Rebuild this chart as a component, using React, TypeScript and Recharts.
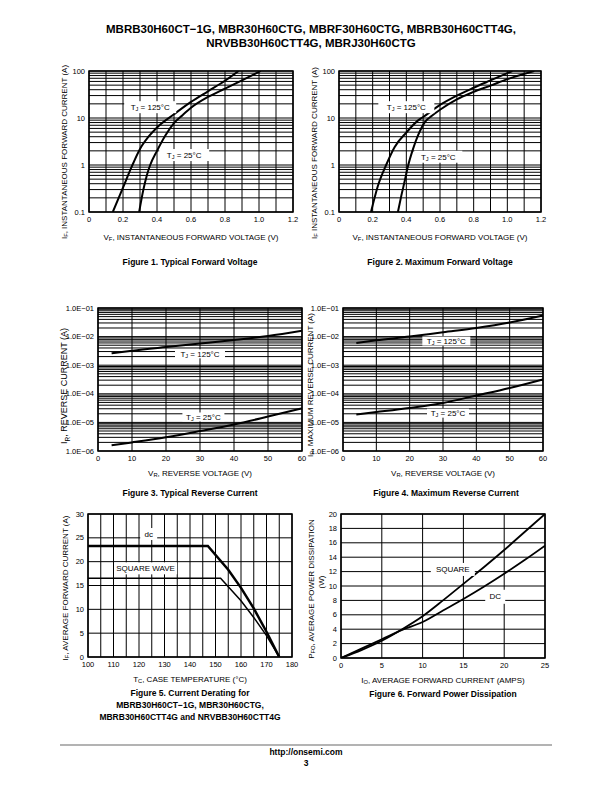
import React from 'react';
import { LineChart, Line, XAxis, YAxis, CartesianGrid, ReferenceDot, ReferenceArea } from 'recharts';

const FONT = "'Liberation Sans', Arial, Helvetica, sans-serif";

// ---------- Figure 1: typical forward voltage ----------
const fig1HotV = [0.14, 0.2, 0.25, 0.3, 0.35, 0.4, 0.5, 0.6, 0.7, 0.8, 0.88];
const fig1HotI = [0.1, 0.33, 0.9, 2.2, 4.0, 6.3, 12, 22, 37, 62, 100];
const fig1ColdV = [0.295, 0.32, 0.34, 0.36, 0.4, 0.45, 0.5, 0.55, 0.6, 0.7, 0.8, 0.9, 1.01];
const fig1ColdI = [0.1, 0.3, 0.6, 1.0, 2.0, 4.3, 7.8, 11.5, 16.5, 28, 42, 63, 100];

// ---------- Figure 2: maximum forward voltage ----------
const fig2HotV = [0.19, 0.23, 0.28, 0.33, 0.4, 0.47, 0.5, 0.6, 0.7, 0.8, 0.9, 1.03];
const fig2HotI = [0.1, 0.35, 1.0, 2.4, 4.9, 8.9, 10.5, 19, 30, 44, 63, 100];
const fig2ColdV = [0.35, 0.37, 0.39, 0.41, 0.44, 0.47, 0.51, 0.55, 0.6, 0.7, 0.8, 0.9, 1.0, 1.16];
const fig2ColdI = [0.1, 0.22, 0.45, 0.95, 2.2, 4.3, 8.2, 11, 15, 25, 36, 49, 67, 100];

// ---------- Figure 3: typical reverse current ----------
const fig3V = [4, 10, 20, 30, 40, 50, 60];
const fig3Hot = [2.6e-3, 3.2e-3, 4.3e-3, 5.7e-3, 7.6e-3, 1.05e-2, 1.6e-2];
const fig3Cold = [1.6e-6, 2.0e-6, 3.0e-6, 5.0e-6, 8.5e-6, 1.6e-5, 3.1e-5];

// ---------- Figure 4: maximum reverse current ----------
const fig4V = [4, 10, 20, 30, 40, 50, 60];
const fig4Hot = [6.0e-3, 7.4e-3, 1.0e-2, 1.42e-2, 2.0e-2, 3.1e-2, 5.5e-2];
const fig4Cold = [1.9e-5, 2.3e-5, 3.2e-5, 4.8e-5, 8.7e-5, 1.6e-4, 3.2e-4];

// ---------- Figure 5: current derating ----------
const fig5DcT = [100, 147, 155, 160, 165, 170, 175];
const fig5DcI = [23.3, 23.3, 18.3, 14.5, 10.2, 5.3, 0];
const fig5SqT = [100, 152, 160, 165, 170, 175];
const fig5SqI = [16.5, 16.5, 11.8, 8.3, 4.5, 0];

// ---------- Figure 6: forward power dissipation ----------
const fig6I = [0, 2.5, 5, 7.5, 10, 12.5, 15, 17.5, 20, 22.5, 25];
const fig6Square = [0, 1.1, 2.4, 4.0, 5.8, 8.0, 10.3, 12.6, 15.0, 17.5, 20.0];
const fig6Dc = [0, 1.3, 2.6, 3.9, 5.0, 6.6, 8.2, 9.9, 11.7, 13.6, 15.6];

// ---------- ticks ----------
const fig12XTicks = [0, 0.1, 0.2, 0.3, 0.4, 0.5, 0.6, 0.7, 0.8, 0.9, 1.0, 1.1, 1.2];
const fig12XLabelVals = [0, 0.2, 0.4, 0.6, 0.8, 1.0, 1.2];
const fig12XLabels = ['0', '0.2', '0.4', '0.6', '0.8', '1.0', '1.2'];
const fig12YDecades = [0.1, 1, 10, 100];
const fig12YLabels = ['0.1', '1', '10', '100'];
const fig34XTicks = [0, 10, 20, 30, 40, 50, 60];
const fig34YDecades = [1e-6, 1e-5, 1e-4, 1e-3, 1e-2, 1e-1];
const fig34YLabels = ['1.0E\u221206', '1.0E\u221205', '1.0E\u221204', '1.0E\u221203', '1.0E\u221202', '1.0E\u221201'];
const fig5XTicks = [100, 105, 110, 115, 120, 125, 130, 135, 140, 145, 150, 155, 160, 165, 170, 175, 180];
const fig5XLabelVals = [100, 110, 120, 130, 140, 150, 160, 170, 180];
const fig5YTicks = [0, 5, 10, 15, 20, 25, 30];
const fig6XTicks = [0, 5, 10, 15, 20, 25];
const fig6YTicks = [0, 2, 4, 6, 8, 10, 12, 14, 16, 18, 20];
const minorMult = [1, 2, 3, 4, 5, 6, 7, 8, 9];

const logTicks = (decades: number[]) =>
  decades
    .slice(0, -1)
    .flatMap((d) => minorMult.map((m) => +(m * d).toPrecision(6)))
    .concat([decades[decades.length - 1]]);

const near = (a: number, b: number) => Math.abs(a / b - 1) < 1e-6;
const labelFrom = (vals: number[], labels: string[]) => (v: number) => {
  const i = vals.findIndex((d) => (d === 0 ? v === 0 : near(v, d)));
  return i >= 0 ? labels[i] : '';
};

const pts = (xs: number[], ys: number[]) => xs.map((x, i) => ({ x, y: ys[i] }));

const tickStyle = { fontSize: 7.5, fill: '#000', fontFamily: FONT };

type PlotProps = {
  left: number; top: number; w: number; h: number;
  xDomain: [number, number]; xTicks: number[]; xFmt: (v: number) => string;
  yDomain: [number, number]; yTicks: number[]; yFmt: (v: number) => string;
  log?: boolean; children?: React.ReactNode;
};

function Plot(p: PlotProps) {
  return (
    <div style={{ position: 'absolute', left: p.left - 60, top: p.top - 10 }}>
      <LineChart width={p.w + 70} height={p.h + 40} margin={{ top: 10, right: 10, bottom: 0, left: 0 }}>
        <CartesianGrid stroke="#000" strokeWidth={1} />
        <XAxis type="number" dataKey="x" domain={p.xDomain} ticks={p.xTicks} interval={0}
          tickFormatter={p.xFmt} tickLine={false} axisLine={false} tickSize={0} tickMargin={5}
          height={30} tick={tickStyle} allowDataOverflow />
        <YAxis type="number" scale={p.log ? 'log' : 'linear'} domain={p.yDomain} ticks={p.yTicks} interval={0}
          tickFormatter={p.yFmt} tickLine={false} axisLine={false} tickSize={0} tickMargin={4}
          width={60} tick={tickStyle} allowDataOverflow />
        <ReferenceArea x1={p.xDomain[0]} x2={p.xDomain[1]} y1={p.yDomain[0]} y2={p.yDomain[1]}
          fill="none" fillOpacity={0} stroke="#000" strokeWidth={1.5} ifOverflow="visible" />
        {p.children}
      </LineChart>
    </div>
  );
}

const curve = (xs: number[], ys: number[], w = 2, type: 'monotone' | 'linear' = 'monotone') => (
  <Line data={pts(xs, ys)} dataKey="y" type={type} stroke="#000" strokeWidth={w} dot={false}
    isAnimationActive={false} />
);

const box = (content: React.ReactNode, w: number, h: number, fs = 8) => (props: any) => (
  <g>
    <rect x={props.cx - w / 2} y={props.cy - h / 2} width={w} height={h} fill="#fff" />
    <text x={props.cx} y={props.cy} textAnchor="middle" dominantBaseline="central" fontSize={fs}
      fontFamily={FONT} fill="#000">{content}</text>
  </g>
);

const tj = (t: string) => [
  <tspan key="a">T</tspan>,
  <tspan key="b" fontSize={5.6} dy={2}>J</tspan>,
  <tspan key="c" dy={-2}>{` = ${t}\u00B0C`}</tspan>,
];

const subT = (main: string, s: string, rest: string, fs: number) => [
  <tspan key="a">{main}</tspan>,
  <tspan key="b" fontSize={fs * 0.72} dy={fs * 0.3}>{s}</tspan>,
  <tspan key="c" dy={-fs * 0.3}>{rest}</tspan>,
];

type TxtProps = { x: number; y: number; s?: number; b?: boolean; r?: boolean; children?: React.ReactNode };
const Txt = ({ x, y, s = 8, b = false, r = false, children }: TxtProps) => (
  <text x={x} y={y} fontSize={s} fontWeight={b ? 'bold' : 'normal'} textAnchor="middle"
    dominantBaseline="central" transform={r ? `rotate(-90 ${x} ${y})` : undefined} fill="#000">
    {children}
  </text>
);

export default function App() {
  const fig12Y = logTicks(fig12YDecades);
  const fig34Y = logTicks(fig34YDecades);
  const fx12 = labelFrom(fig12XLabelVals, fig12XLabels);
  const fy12 = labelFrom(fig12YDecades, fig12YLabels);
  const fy34 = labelFrom(fig34YDecades, fig34YLabels);
  const f5x = labelFrom(fig5XLabelVals, fig5XLabelVals.map(String));
  const plain = (v: number) => String(v);

  return (
    <div style={{ position: 'relative', width: 612, height: 792, margin: -8, background: '#fff',
      fontFamily: FONT, overflow: 'hidden' }}>
      {/* Figure 1 */}
      <Plot left={89} top={71} w={204} h={141} xDomain={[0, 1.2]} xTicks={fig12XTicks} xFmt={fx12}
        yDomain={[0.1, 100]} yTicks={fig12Y} yFmt={fy12} log>
        {curve(fig1HotV, fig1HotI)}
        {curve(fig1ColdV, fig1ColdI)}
        <ReferenceDot x={0.36} y={17} r={0} shape={box(tj('125'), 52, 12)} />
        <ReferenceDot x={0.56} y={1.63} r={0} shape={box(tj('25'), 50, 12)} />
      </Plot>

      {/* Figure 2 */}
      <Plot left={339} top={71} w={202} h={141} xDomain={[0, 1.2]} xTicks={fig12XTicks} xFmt={fx12}
        yDomain={[0.1, 100]} yTicks={fig12Y} yFmt={fy12} log>
        {curve(fig2HotV, fig2HotI)}
        {curve(fig2ColdV, fig2ColdI)}
        <ReferenceDot x={0.4} y={17} r={0} shape={box(tj('125'), 56, 12)} />
        <ReferenceDot x={0.59} y={1.5} r={0} shape={box(tj('25'), 48, 12)} />
      </Plot>

      {/* Figure 3 */}
      <Plot left={98} top={308} w={204} h={143} xDomain={[0, 60]} xTicks={fig34XTicks} xFmt={plain}
        yDomain={[1e-6, 1e-1]} yTicks={fig34Y} yFmt={fy34} log>
        {curve(fig3V, fig3Hot)}
        {curve(fig3V, fig3Cold)}
        <ReferenceDot x={30} y={2.5e-3} r={0} shape={box(tj('125'), 50, 9)} />
        <ReferenceDot x={31} y={1.55e-5} r={0} shape={box(tj('25'), 42, 9)} />
      </Plot>

      {/* Figure 4 */}
      <Plot left={343} top={308} w={200} h={143} xDomain={[0, 60]} xTicks={fig34XTicks} xFmt={plain}
        yDomain={[1e-6, 1e-1]} yTicks={fig34Y} yFmt={fy34} log>
        {curve(fig4V, fig4Hot)}
        {curve(fig4V, fig4Cold)}
        <ReferenceDot x={31} y={7.0e-3} r={0} shape={box(tj('125'), 48, 9)} />
        <ReferenceDot x={31.5} y={2.1e-5} r={0} shape={box(tj('25'), 42, 9)} />
      </Plot>

      {/* Figure 5 */}
      <Plot left={88} top={514} w={204} h={143} xDomain={[100, 180]} xTicks={fig5XTicks} xFmt={f5x}
        yDomain={[0, 30]} yTicks={fig5YTicks} yFmt={plain}>
        {curve(fig5DcT, fig5DcI, 2.5, 'linear')}
        {curve(fig5SqT, fig5SqI, 1.5, 'linear')}
        <ReferenceDot x={123.8} y={25.8} r={0} shape={box('dc', 17, 12)} />
        <ReferenceDot x={122.6} y={18.6} r={0} shape={box('SQUARE WAVE', 63, 12)} />
      </Plot>

      {/* Figure 6 */}
      <Plot left={341} top={514} w={204} h={144} xDomain={[0, 25]} xTicks={fig6XTicks} xFmt={plain}
        yDomain={[0, 20]} yTicks={fig6YTicks} yFmt={plain}>
        {curve(fig6I, fig6Square, 1.8)}
        {curve(fig6I, fig6Dc, 1.8)}
        <ReferenceDot x={13.7} y={12.3} r={0} shape={box('SQUARE', 44, 13)} />
        <ReferenceDot x={18.9} y={8.5} r={0} shape={box('DC', 20, 14)} />
      </Plot>

      <svg width={612} height={792} style={{ position: 'absolute', left: 0, top: 0, pointerEvents: 'none' }}
        fontFamily={FONT}>
        {/* title */}
        <Txt x={311} y={29} s={11.5} b>MBRB30H60CT{'\u2212'}1G, MBR30H60CTG, MBRF30H60CTG, MBRB30H60CTT4G,</Txt>
        <Txt x={311} y={42.5} s={11.5} b>NRVBB30H60CTT4G, MBRJ30H60CTG</Txt>

        {/* Fig 1 labels */}
        <Txt x={64} y={152} r>{subT('I', 'F', ', INSTANTANEOUS FORWARD CURRENT (A)', 8)}</Txt>
        <Txt x={191} y={237}>{subT('V', 'F', ', INSTANTANEOUS FORWARD VOLTAGE (V)', 8)}</Txt>
        <Txt x={190} y={262} s={8.5} b>Figure 1. Typical Forward Voltage</Txt>

        {/* Fig 2 labels */}
        <Txt x={314} y={153} r>{subT('I', 'F', ' INSTANTANEOUS FORWARD CURRENT (A)', 8)}</Txt>
        <Txt x={440} y={237}>{subT('V', 'F', ', INSTANTANEOUS FORWARD VOLTAGE (V)', 8)}</Txt>
        <Txt x={440} y={262} s={8.5} b>Figure 2. Maximum Forward Voltage</Txt>

        {/* Fig 3 labels */}
        <Txt x={64} y={386} s={9} r>{subT('I', 'R', ', REVERSE CURRENT (A)', 9)}</Txt>
        <Txt x={200} y={473}>{subT('V', 'R', ', REVERSE VOLTAGE (V)', 8)}</Txt>
        <Txt x={190} y={493} s={8.5} b>Figure 3. Typical Reverse Current</Txt>

        {/* Fig 4 labels */}
        <Txt x={310} y={385} r>{subT('I', 'R', ', MAXIMUM REVERSE CURRENT (A)', 8)}</Txt>
        <Txt x={443} y={473}>{subT('V', 'R', ', REVERSE VOLTAGE (V)', 8)}</Txt>
        <Txt x={446} y={493} s={8.5} b>Figure 4. Maximum Reverse Current</Txt>

        {/* Fig 5 labels */}
        <Txt x={65} y={588} r>{subT('I', 'F', ', AVERAGE FORWARD CURRENT (A)', 8)}</Txt>
        <Txt x={190} y={679}>{subT('T', 'C', ', CASE TEMPERATURE (\u00B0C)', 8)}</Txt>
        <Txt x={190} y={693} s={8.5} b>Figure 5. Current Derating for</Txt>
        <Txt x={190} y={705} s={8.5} b>MBRB30H60CT{'\u2212'}1G, MBR30H60CTG,</Txt>
        <Txt x={190} y={717} s={8.5} b>MBRB30H60CTT4G and NRVBB30H60CTT4G</Txt>

        {/* Fig 6 labels */}
        <Txt x={311} y={589} r>{subT('P', 'FO', ', AVERAGE POWER DISSIPATION', 8)}</Txt>
        <Txt x={321} y={582} r>(W)</Txt>
        <Txt x={443} y={680}>{subT('I', 'O', ', AVERAGE FORWARD CURRENT (AMPS)', 8)}</Txt>
        <Txt x={443} y={694} s={8.5} b>Figure 6. Forward Power Dissipation</Txt>

        {/* footer */}
        <line x1={60} y1={745} x2={552} y2={745} stroke="#b3b3b3" strokeWidth={2} />
        <Txt x={306} y={752} s={8.5} b>http://onsemi.com</Txt>
        <Txt x={306} y={763} s={8.5} b>3</Txt>
      </svg>
    </div>
  );
}
